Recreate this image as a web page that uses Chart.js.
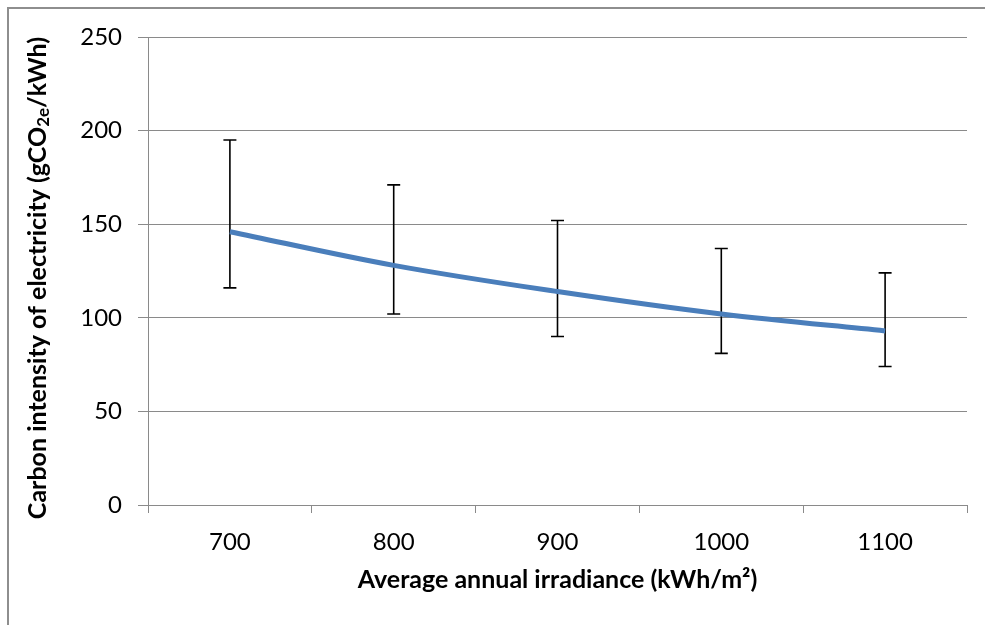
<!DOCTYPE html>
<html lang="en">
<head>
    <meta charset="UTF-8">
    <title>Carbon intensity vs irradiance</title>
    <script src="https://cdn.jsdelivr.net/npm/chart.js"></script>
    <style>
        body {
            margin: 0;
            background: white;
            width: 985px;
            height: 625px;
            overflow: hidden;
            position: relative;
        }
        .frame {
            position: absolute;
            left: 7px;
            top: 7px;
            width: 985px;
            height: 625px;
            border-top: 2px solid #8e8e8e;
            border-left: 2px solid #8e8e8e;
        }
        #chart {
            position: absolute;
            left: 0;
            top: 0;
        }
    </style>
</head>
<body>
    <div class="frame"></div>
    <canvas id="chart" width="985" height="625"></canvas>

    <script>
        // data
        const categories = ['700', '800', '900', '1000', '1100'];
        const carbonIntensity = [146, 128, 114, 102, 93];
        const errorHigh = [195, 171, 152, 137, 124];
        const errorLow = [116, 102, 90, 81, 74];

        const axisGrey = '#8a8a8a';
        const fontFamily = 'Lato, "Open Sans", sans-serif';

        // vertical error bars, drawn under the line
        const errorBars = {
            id: 'errorBars',
            beforeDatasetsDraw(chart) {
                const ctx = chart.ctx;
                const x = chart.scales.x, y = chart.scales.y;
                ctx.save();
                ctx.strokeStyle = '#000';
                ctx.lineWidth = 1.6;
                categories.forEach((c, i) => {
                    const px = x.getPixelForValue(i);
                    const top = y.getPixelForValue(errorHigh[i]);
                    const bot = y.getPixelForValue(errorLow[i]);
                    ctx.beginPath();
                    ctx.moveTo(px, top);
                    ctx.lineTo(px, bot);
                    ctx.moveTo(px - 6.5, top);
                    ctx.lineTo(px + 6.5, top);
                    ctx.moveTo(px - 6.5, bot);
                    ctx.lineTo(px + 6.5, bot);
                    ctx.stroke();
                });
                ctx.restore();
            }
        };

        // y title with the "2e" subscript
        const yTitle = {
            id: 'yTitle',
            afterDraw(chart) {
                const ctx = chart.ctx;
                const parts = [
                    { t: 'Carbon intensity of electricity (gCO', size: 25, dy: 0 },
                    { t: '2e', size: 17, dy: 6 },
                    { t: '/kWh)', size: 25, dy: 0 }
                ];
                ctx.save();
                ctx.fillStyle = '#000';
                ctx.textBaseline = 'middle';
                ctx.textAlign = 'left';
                let total = 0;
                parts.forEach(p => {
                    ctx.font = 'bold ' + p.size + 'px ' + fontFamily;
                    p.w = ctx.measureText(p.t).width;
                    total += p.w;
                });
                ctx.translate(38, 278);
                ctx.rotate(-Math.PI / 2);
                let cx = -total / 2;
                parts.forEach(p => {
                    ctx.font = 'bold ' + p.size + 'px ' + fontFamily;
                    ctx.fillText(p.t, cx, p.dy);
                    cx += p.w;
                });
                ctx.restore();
            }
        };

        new Chart(document.getElementById('chart'), {
            type: 'line',
            data: {
                labels: categories,
                datasets: [{
                    label: 'Carbon intensity',
                    data: carbonIntensity,
                    borderColor: '#4a7ebb',
                    borderWidth: 5,
                    pointRadius: 0,
                    tension: 0.35,
                    fill: false
                }]
            },
            options: {
                responsive: false,
                animation: false,
                layout: {
                    padding: { top: 37, right: 18, left: 0, bottom: 0 }
                },
                plugins: {
                    legend: { display: false },
                    tooltip: { enabled: false }
                },
                scales: {
                    x: {
                        type: 'category',
                        offset: true,
                        afterFit(scale) { scale.height = 120; },
                        grid: {
                            offset: true,
                            drawOnChartArea: false,
                            color: axisGrey,
                            tickLength: 8
                        },
                        border: { color: axisGrey, width: 1 },
                        ticks: {
                            color: '#000',
                            padding: 15,
                            maxRotation: 0,
                            font: { family: fontFamily, size: 24 }
                        },
                        title: {
                            display: true,
                            text: 'Average annual irradiance (kWh/m²)',
                            color: '#000',
                            padding: { top: 0, bottom: 30 },
                            font: { family: fontFamily, size: 25, weight: 'bold' }
                        }
                    },
                    y: {
                        min: 0,
                        max: 250,
                        afterFit(scale) { scale.width = 148; },
                        grid: {
                            color: axisGrey,
                            tickLength: 10
                        },
                        border: { color: axisGrey, width: 1 },
                        ticks: {
                            stepSize: 50,
                            color: '#000',
                            padding: 16,
                            font: { family: fontFamily, size: 24 }
                        }
                    }
                }
            },
            plugins: [errorBars, yTitle]
        });
    </script>
</body>
</html>
